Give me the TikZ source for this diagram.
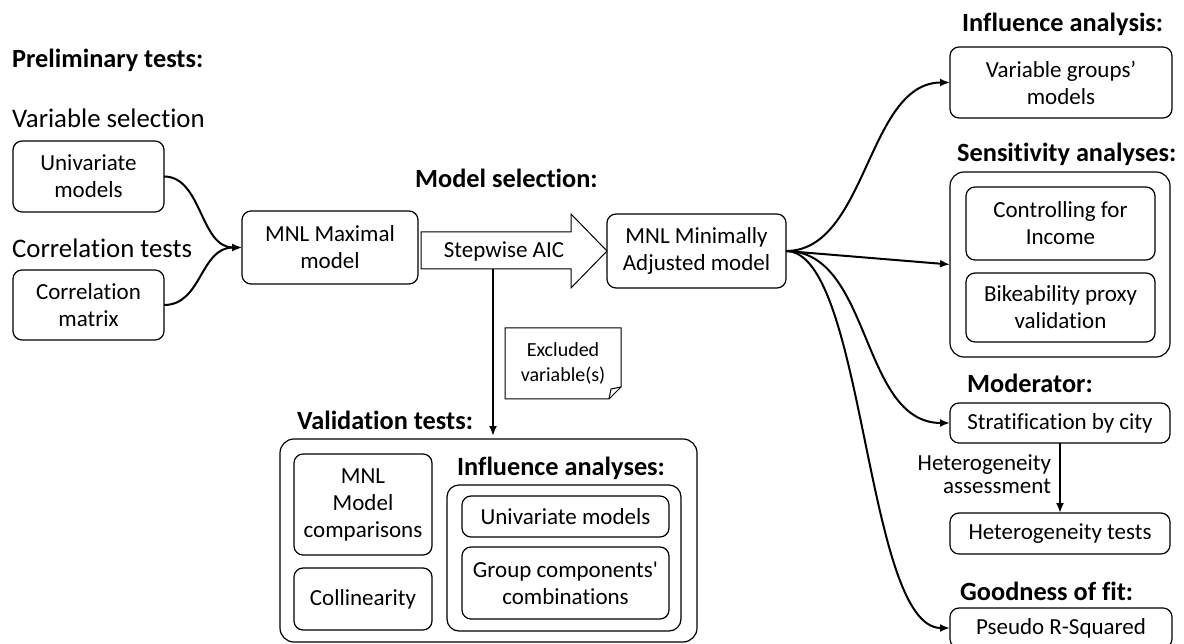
\documentclass[tikz,border=0pt]{standalone}
\usepackage{fontspec}
\setmainfont{Carlito}[Ligatures=NoCommon]
\newfontfamily\rawcarlito{Carlito}[Ligatures={TeXOff,NoCommon}]
\usetikzlibrary{arrows.meta}
\begin{document}
\begin{tikzpicture}[x=1pt,y=-1pt,
  box/.style={draw, rounded corners=9pt, line width=1.2pt, align=center,
    inner sep=0pt, outer sep=0pt, font=\fontsize{23}{27}\selectfont},
  group/.style={draw, rounded corners=14pt, line width=1.2pt, inner sep=0pt, outer sep=0pt},
  head/.style={anchor=base west, inner sep=0pt, font=\bfseries\fontsize{26.3}{30}\selectfont},
  plain/.style={anchor=base west, inner sep=0pt, font=\fontsize{26.8}{30}\selectfont},
  conn/.style={line width=2pt, -{Latex[length=10pt,width=8pt]}},
  sz/.style 2 args={minimum width=#1pt, minimum height=#2pt}]
\useasboundingbox (0,0) rectangle (1184,644);

% ---- preliminary tests ----
\node[head]  (prelim) at (12,68)  {Preliminary tests:};
\node[plain] (varsel) at (12,128) {Variable selection};
\node[plain] (cortst) at (12,258) {Correlation tests};
\node[box, sz={151}{71}] (uni)  at (88.5,176.5) {Univariate\\models};
\node[box, sz={151}{70}] (corr) at (88.5,305)   {Correlation\\matrix};

\node[box, sz={176}{73}] (max) at (330,247.5) {MNL Maximal\\model};

\draw[conn] (uni.east)  .. controls (202,176.5) and (200,247.5) .. (max.west);
\draw[conn] (corr.east) .. controls (202,305)   and (200,247.5) .. (max.west);

% ---- model selection ----
\node[head] (modsel) at (415,188) {Model selection:};
\draw[line width=1pt] (421,232) -- (571,232) -- (571,214) -- (607,251)
  -- (571,288) -- (571,269) -- (421,269) -- cycle;
\node[font=\fontsize{23}{27}\selectfont, inner sep=0pt] (stepw) at (504,251) {Stepwise AIC};
\coordinate (stepbot) at (493,269);

\node[box, sz={179}{74}] (minadj) at (696.5,251) {MNL Minimally\\Adjusted model};

% note attached to the stepwise line
\node[inner sep=0pt, outer sep=0pt, sz={116}{71}, align=center,
  font=\fontsize{20}{25}\selectfont] (note) at (563,363.5) {Excluded\\variable(s)};
\draw[line width=1pt] (note.north west) -- (note.north east)
  -- ([yshift=12pt]note.south east) -- ([xshift=-12pt]note.south east)
  -- (note.south west) -- cycle;
\draw[line width=1pt] ([xshift=-12pt]note.south east)
  -- ([xshift=-10pt,yshift=10pt]note.south east) -- ([yshift=12pt]note.south east);

% ---- validation tests ----
\node[head] (valid) at (297,429) {Validation tests:};
\node[group, sz={417}{203}] (valbox) at (488.5,540.5) {};
\node[box, sz={138}{101}] (mnlcomp) at (363,504.5) {MNL\\Model\\comparisons};
\node[box, sz={138}{62}]  (collin)  at (363,599)   {Collinearity};
\node[head] (inflan) at (457,475) {Influence analyses:};
\node[group, rounded corners=12pt, sz={234}{146}] (inner) at (564,558) {};
\node[box, sz={207}{41}] (univ2) at (565.5,516.5) {Univariate models};
\node[box, sz={207}{72}] (grpcomb) at (565.5,583) {Group components{\rawcarlito'}\\combinations};

\draw[conn] (stepbot) -- ([yshift=3pt]stepbot |- valbox.north);

% ---- right column ----
\node[head] (inflhead) at (962,32) {Influence analysis:};
\node[box, sz={222}{71}] (vargroups) at (1061,82.5) {Variable groups’\\models};

\node[head] (senshead) at (957,162) {Sensitivity analyses:};
\node[group, sz={220}{185}] (sensbox) at (1060,264.5) {};
\node[box, sz={189}{73}] (ctrl) at (1060.5,223.5) {Controlling for\\Income};
\node[box, sz={189}{69}] (bike) at (1060.5,307.5) {Bikeability proxy\\validation};

\node[head] (modhead) at (967,392) {Moderator:};
\node[box, sz={220}{40}] (strat)   at (1060,423)   {Stratification by city};
\node[box, sz={220}{41}] (hettest) at (1060,533.5) {Heterogeneity tests};
\draw[conn] (strat.south) -- (hettest.north)
  node[pos=0.45, left=8pt, align=right, inner sep=0pt,
       font=\fontsize{23}{23}\selectfont] {Heterogeneity\\assessment};

\node[head] (goodhead) at (960,600) {Goodness of fit:};
\node[box, sz={222}{40}] (pseudo) at (1061,628) {Pseudo R-Squared};

% connectors from the minimally adjusted model
\draw[conn] (minadj.east) .. controls (867,251) and (867,82.5) .. (vargroups.west);
\draw[conn] (minadj.east) -- (sensbox.west);
\draw[conn] (minadj.east) .. controls (872,251) and (860,423) .. (strat.west);
\draw[conn] (minadj.east) .. controls (865,251) and (865,628) .. (pseudo.west);
\end{tikzpicture}
\end{document}
